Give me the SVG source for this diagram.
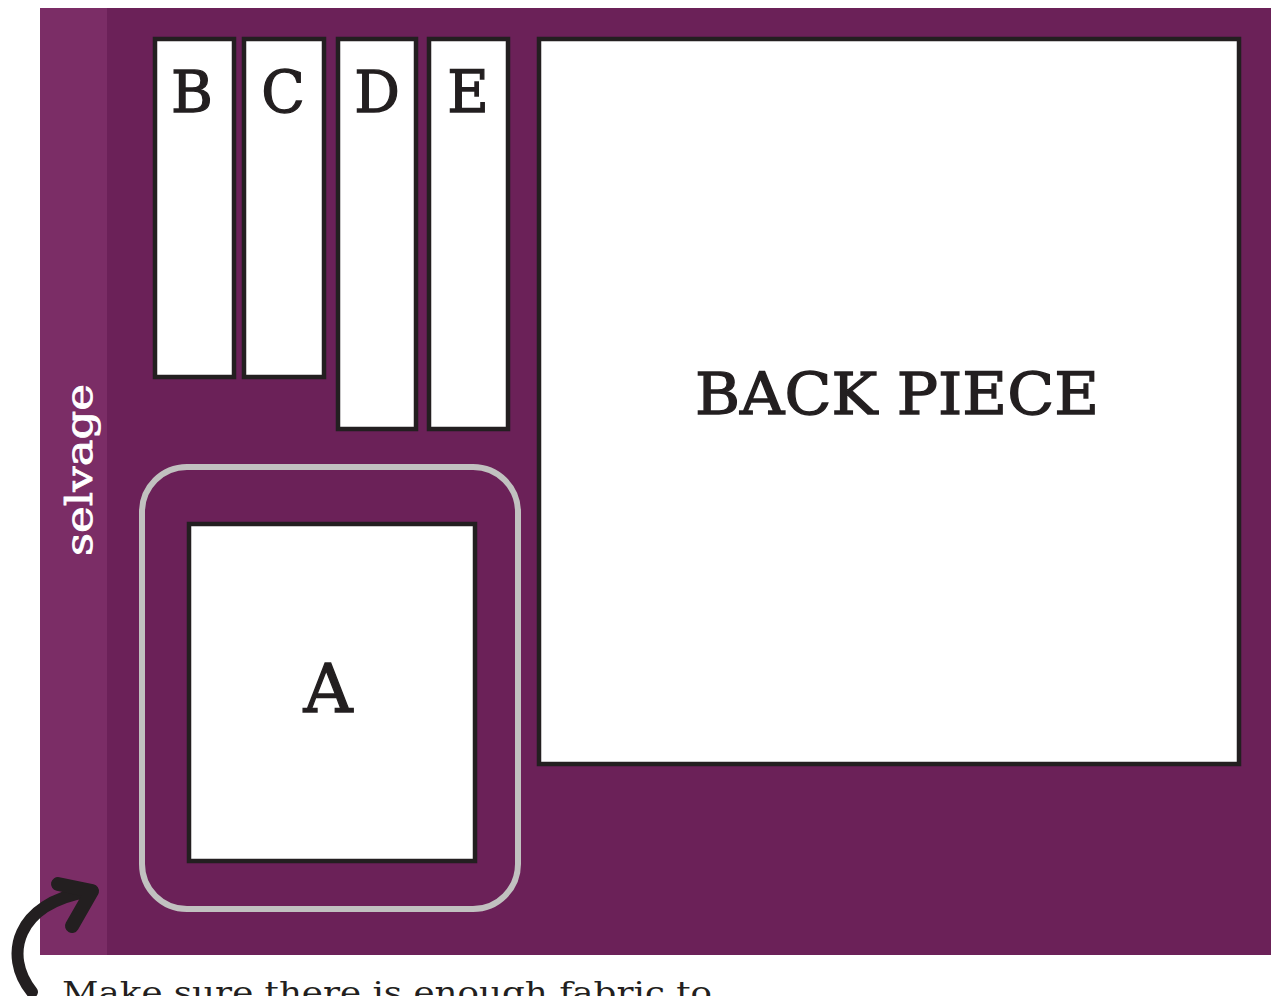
<svg xmlns="http://www.w3.org/2000/svg" width="1271" height="996" viewBox="0 0 1271 996">
<style>
.piece{fill:#ffffff;stroke:#231f20;stroke-width:4.5}
.lbl{font-family:"DejaVu Serif",serif;fill:#231f20;stroke:#231f20;stroke-width:1.3;text-anchor:middle}
</style>
<rect x="0" y="0" width="1271" height="996" fill="#ffffff"/>
<g id="fabric">
<rect x="40" y="8" width="1231" height="947" fill="#6b2158"/>
<rect x="40" y="8" width="67" height="947" fill="#7b2d66"/>
<text x="92" y="470" transform="rotate(-90 92 470)" font-family="DejaVu Serif, serif" font-size="38" fill="#ffffff" stroke="#ffffff" stroke-width="0.8" text-anchor="middle" textLength="172" lengthAdjust="spacingAndGlyphs">selvage</text>
</g>
<g id="B"><rect class="piece" x="155" y="39" width="79" height="338"/><text class="lbl" x="192" y="112" font-size="57">B</text></g>
<g id="C"><rect class="piece" x="244" y="39" width="80" height="338"/><text class="lbl" x="283" y="112" font-size="57">C</text></g>
<g id="D"><rect class="piece" x="338" y="39" width="78" height="390"/><text class="lbl" x="377" y="112" font-size="57">D</text></g>
<g id="E"><rect class="piece" x="429" y="39" width="79" height="390"/><text class="lbl" x="468" y="112" font-size="57">E</text></g>
<g id="back"><rect class="piece" x="539" y="39" width="700" height="725"/><text class="lbl" x="897" y="414" font-size="57" textLength="404" lengthAdjust="spacingAndGlyphs">BACK PIECE</text></g>
<g id="A-area"><rect x="142" y="467" width="376" height="442" rx="45" fill="none" stroke="#c1c1c0" stroke-width="6"/></g>
<g id="A"><rect class="piece" x="189" y="524" width="286" height="337"/><text class="lbl" x="328" y="712" font-size="68">A</text></g>
<g id="connectors">
<path d="M32 992 C2 955 18 903 86 892" fill="none" stroke="#231f20" stroke-width="12" stroke-linecap="round"/>
<path d="M58 884 L92 891 L72 926" fill="none" stroke="#231f20" stroke-width="14" stroke-linecap="round" stroke-linejoin="round"/>
</g>
<text x="62" y="1003" font-family="DejaVu Serif, serif" font-size="29" fill="#231f20" textLength="650" lengthAdjust="spacingAndGlyphs">Make sure there is enough fabric to</text>
</svg>
